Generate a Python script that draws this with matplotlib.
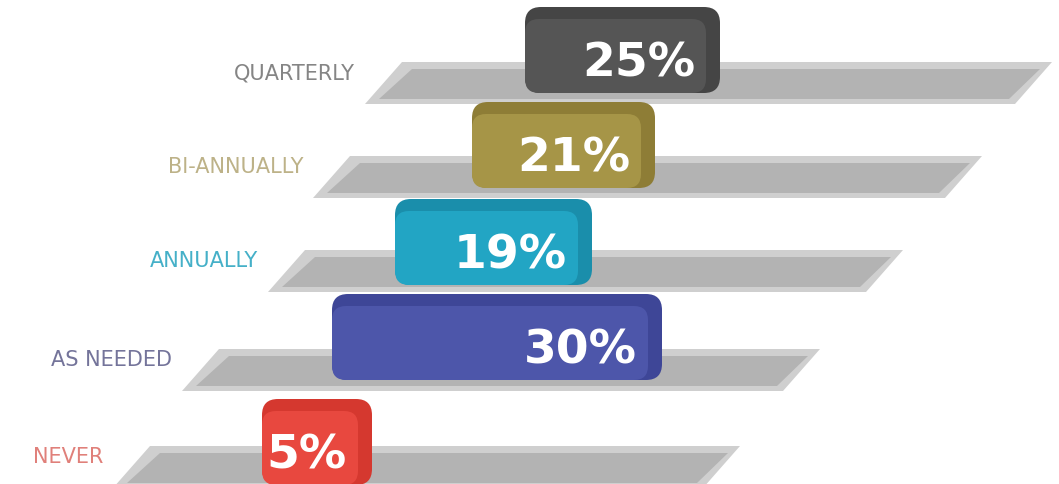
import matplotlib
matplotlib.use("Agg")
import matplotlib.pyplot as plt
from matplotlib.patches import Polygon, FancyBboxPatch

# data
categories = ["QUARTERLY", "BI-ANNUALLY", "ANNUALLY", "AS NEEDED", "NEVER"]
values = [25, 21, 19, 30, 5]
bar_colors = ["#555555", "#a69547", "#22a5c4", "#4d56aa", "#e8483f"]
edge_colors = ["#454545", "#8e7d36", "#1a8eab", "#3e4697", "#d5382f"]
label_colors = ["#858585", "#bdb288", "#45b0c8", "#74749a", "#e0807a"]

# layout (pixel units of a 1059x485 canvas)
W, H = 1059, 485
track_top = [63, 157, 251, 350, 447]
track_h = 42
track_left = [365, 313, 268, 182, 113]
track_right = [1052, 982, 903, 820, 740]
slant = 37
bar_left = [525, 472, 395, 332, 262]
bar_right = [720, 655, 592, 662, 372]
bar_top = [8, 103, 200, 295, 400]
bar_h = 86

fig = plt.figure(figsize=(W / 100, H / 100), dpi=100)
ax = fig.add_axes([0, 0, 1, 1])
ax.set_xlim(0, W)
ax.set_ylim(H, 0)
ax.axis("off")

for i, cat in enumerate(categories):
    t = track_top[i]
    b = t + track_h
    l = track_left[i]
    r = track_right[i]
    # gray slanted track
    outer = [(l, b), (l + slant, t), (r, t), (r - slant, b)]
    ax.add_patch(Polygon(outer, closed=True, fc="#cfcfcf", ec="none"))
    inner = [(l + 14, b - 5), (l + slant + 10, t + 7), (r - 12, t + 7), (r - slant - 6, b - 5)]
    ax.add_patch(Polygon(inner, closed=True, fc="#b3b3b3", ec="none"))

    # category label
    ax.text(l - 10, t + 10, cat, ha="right", va="center", fontsize=15,
            color=label_colors[i], family="DejaVu Sans")

    # rounded 3d-ish bar
    x0, x1 = bar_left[i], bar_right[i]
    y0 = bar_top[i]
    ax.add_patch(FancyBboxPatch((x0, y0), x1 - x0, bar_h,
                                boxstyle="round,pad=0,rounding_size=16",
                                fc=edge_colors[i], ec="none"))
    ax.add_patch(FancyBboxPatch((x0, y0 + 12), x1 - x0 - 14, bar_h - 12,
                                boxstyle="round,pad=0,rounding_size=14",
                                fc=bar_colors[i], ec="none"))
    ax.text(x1 - 25, y0 + bar_h / 2 + 13, f"{values[i]}%", ha="right", va="center",
            fontsize=34, fontweight="bold", color="white", family="DejaVu Sans")

fig.savefig("out.png", dpi=100)
